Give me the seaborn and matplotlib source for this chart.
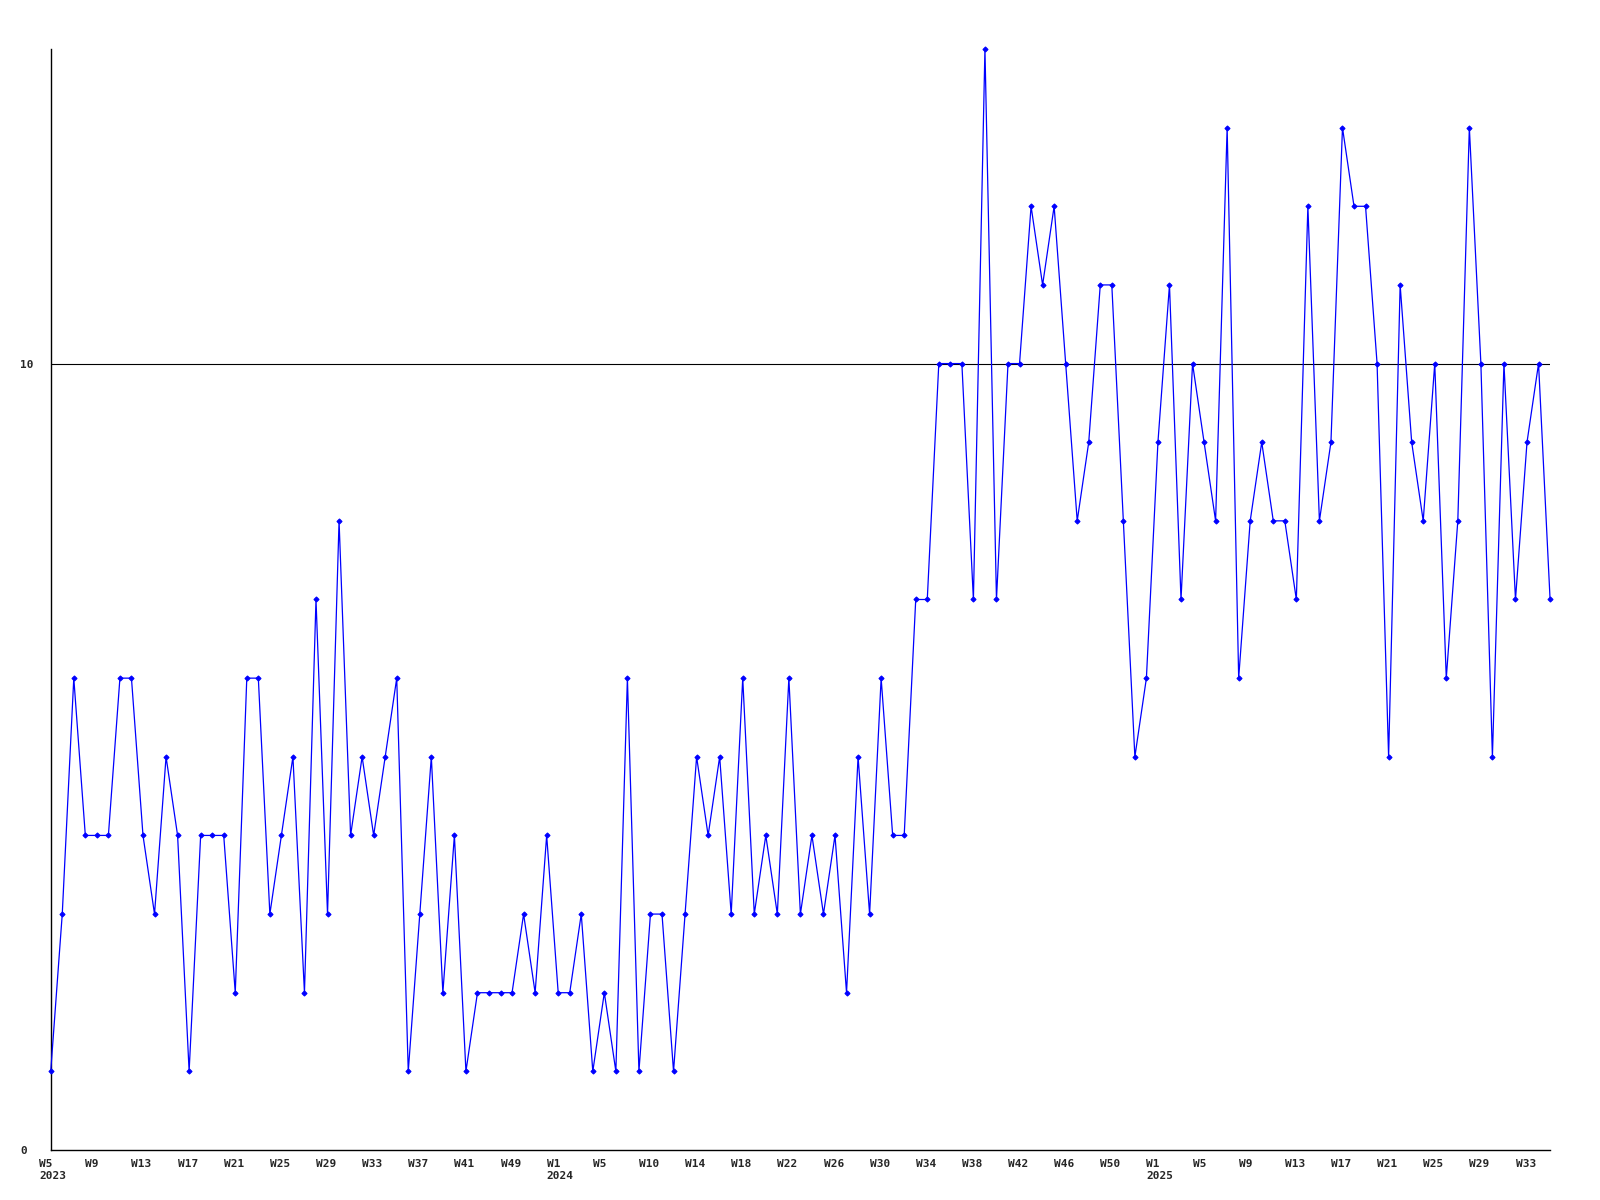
import seaborn as sns
import matplotlib.pyplot as plt
import pandas as pd
from matplotlib.transforms import ScaledTranslation

# Weekly counts (some weeks are missing)
weeks_2023 = list(range(5, 42)) + [42, 43, 44] + list(range(49, 53))
values_2023 = [1, 3, 6, 4, 4, 4, 6, 6, 4, 3, 5, 4, 1, 4, 4, 4, 2, 6, 6, 3,
               4, 5, 2, 7, 3, 8, 4, 5, 4, 5, 6, 1, 3, 5, 2, 4, 1, 2, 2, 2,
               2, 3, 2, 4]

weeks_2024 = [1, 2, 3, 4, 5, 7, 8, 9] + list(range(10, 54))
values_2024 = [2, 2, 3, 1, 2, 1, 6, 1, 3, 3, 1, 3, 5, 4, 5, 3, 6, 3, 4, 3,
               6, 3, 4, 3, 4, 2, 5, 3, 6, 4, 4, 7, 7, 10, 10, 10, 7, 14, 7, 10,
               10, 12, 11, 12, 10, 8, 9, 11, 11, 8, 5, 6]

weeks_2025 = list(range(1, 36))
values_2025 = [9, 11, 7, 10, 9, 8, 13, 6, 8, 9, 8, 8, 7, 12, 8, 9, 13, 12, 12, 10,
               5, 11, 9, 8, 10, 6, 8, 13, 10, 5, 10, 7, 9, 10, 7]

y_ticks = [0, 10]

# Build long table
years = [2023] * len(weeks_2023) + [2024] * len(weeks_2024) + [2025] * len(weeks_2025)
weeks = weeks_2023 + weeks_2024 + weeks_2025
values = values_2023 + values_2024 + values_2025
df = pd.DataFrame({"year": years, "week": weeks, "value": values})
df["idx"] = range(len(df))

sns.set_style("white")
plt.rcParams["font.family"] = ["DejaVu Sans Mono", "DejaVu Sans"]

fig, ax = plt.subplots(figsize=(16, 12), dpi=100)
ax.set_position([0.0317, 0.04167, 0.9371, 0.9175])

ax.axhline(10, color="black", lw=0.8, zorder=1)
sns.lineplot(data=df, x="idx", y="value", color="#0000ff", lw=0.9,
             marker="D", markersize=2.6, markeredgecolor="#0000ff",
             clip_on=False, zorder=3, ax=ax)

ax.set_xlim(0, len(df) - 1)
ax.set_ylim(0, 14)

# x labels every 4th week, year shown under first week and each W1;
# the labels start about one step left of their point
tick_idx = list(range(0, len(df), 4))
ax.set_xticks(tick_idx)
ax.set_xticklabels([])
shift = ax.get_xaxis_transform() + ScaledTranslation(-11.5 / 100, -9 / 100, fig.dpi_scale_trans)
for i in tick_idx:
    lbl = f"W{df.week[i]}"
    if i == 0 or df.week[i] == 1:
        lbl += f"\n{df.year[i]}"
    ax.text(i, 0, lbl, transform=shift, fontsize=8, fontweight="bold",
            ha="left", va="top", multialignment="left", linespacing=1.25)

ax.set_yticks(y_ticks)
ax.set_yticklabels([str(v) for v in y_ticks], fontsize=8, fontweight="bold")
for t in ax.get_yticklabels():
    t.set_ha("left")

ax.tick_params(axis="x", length=0)
ax.tick_params(axis="y", length=0, pad=22)

ax.set_xlabel("")
ax.set_ylabel("")
sns.despine(ax=ax)
for s in ["left", "bottom"]:
    ax.spines[s].set_color("black")
    ax.spines[s].set_linewidth(1.0)

fig.savefig("out.png", dpi=100)
